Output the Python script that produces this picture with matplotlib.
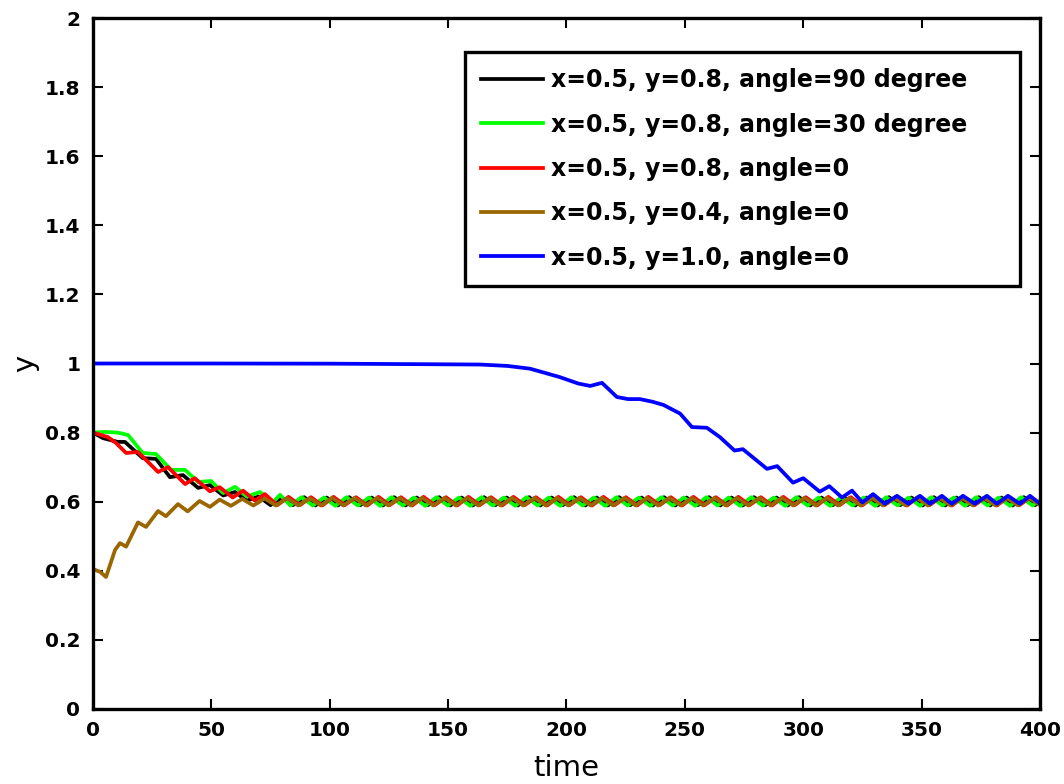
import numpy as np
import matplotlib
matplotlib.use("Agg")
import matplotlib.pyplot as plt

plt.rcParams['font.family'] = ['DejaVu Sans']

# ---- data ----
labels = ["x=0.5, y=0.8, angle=90 degree",
          "x=0.5, y=0.8, angle=30 degree",
          "x=0.5, y=0.8, angle=0",
          "x=0.5, y=0.4, angle=0",
          "x=0.5, y=1.0, angle=0"]
colors = ["black", "#00ff00", "red", "#996600", "blue"]

# early (transient) parts: time, y
black_t = [0, 4.2, 10.5, 13.5, 21, 26.6, 32.5, 38, 44.4, 49.4, 55, 60, 65, 70, 75]
black_y = [0.800, 0.784, 0.773, 0.773, 0.726, 0.724, 0.671, 0.677, 0.640, 0.648,
           0.618, 0.628, 0.603, 0.615, 0.590]

green_t = [0, 5, 10.5, 14.8, 21, 26.6, 33, 38.9, 44.4, 49.8, 55, 60, 65, 70.5,
           76, 79, 83.35]
green_y = [0.800, 0.802, 0.800, 0.793, 0.741, 0.738, 0.692, 0.692, 0.657, 0.660,
           0.625, 0.643, 0.615, 0.628, 0.598, 0.620, 0.589]

red_t = [0, 6.3, 9.7, 14, 19, 27.5, 31.7, 38.9, 43, 49.4, 53.5, 59, 63.4, 68.4,
         72.6, 77.85]
red_y = [0.800, 0.787, 0.770, 0.741, 0.744, 0.686, 0.700, 0.651, 0.668, 0.630,
         0.642, 0.612, 0.632, 0.603, 0.622, 0.590]

brown_t = [0, 3, 5.5, 9.3, 11.4, 14, 19, 22.4, 27.5, 30.8, 35.9, 40, 45, 49.4]
brown_y = [0.405, 0.397, 0.382, 0.460, 0.480, 0.470, 0.540, 0.527, 0.573, 0.558,
           0.593, 0.572, 0.602, 0.585]

# settled parts: peaks and troughs, read every half period
half_period = 4.75
black_tail_start = 79.7
black_tail = [0.612, 0.590, 0.613, 0.589, 0.612, 0.589, 0.613, 0.590, 0.612, 0.589,
              0.613, 0.589, 0.612, 0.590, 0.613, 0.589, 0.612, 0.589, 0.613, 0.590,
              0.612, 0.589, 0.613, 0.589, 0.612, 0.590, 0.613, 0.589, 0.612, 0.589,
              0.613, 0.590, 0.612, 0.589, 0.613, 0.589, 0.612, 0.590, 0.613, 0.589,
              0.612, 0.589, 0.613, 0.590, 0.612, 0.589, 0.613, 0.589, 0.612, 0.590,
              0.613, 0.589, 0.612, 0.589, 0.613, 0.590, 0.612, 0.589, 0.613, 0.589,
              0.612, 0.590, 0.613, 0.589, 0.612, 0.589, 0.613, 0.590, 0.612]
green_tail_start = 88.1
green_tail = [0.613, 0.589, 0.612, 0.588, 0.613, 0.589, 0.612, 0.588, 0.613, 0.589,
              0.612, 0.588, 0.613, 0.589, 0.612, 0.588, 0.613, 0.589, 0.612, 0.588,
              0.613, 0.589, 0.612, 0.588, 0.613, 0.589, 0.612, 0.588, 0.613, 0.589,
              0.612, 0.588, 0.613, 0.589, 0.612, 0.588, 0.613, 0.589, 0.612, 0.588,
              0.613, 0.589, 0.612, 0.588, 0.613, 0.589, 0.612, 0.588, 0.613, 0.589,
              0.612, 0.588, 0.613, 0.589, 0.612, 0.588, 0.613, 0.589, 0.612, 0.588,
              0.613, 0.589, 0.612, 0.588, 0.613, 0.589, 0.612]
red_tail_start = 82.6
red_tail = [0.614, 0.590, 0.613, 0.589, 0.614, 0.590, 0.613, 0.589, 0.614, 0.590,
            0.613, 0.589, 0.614, 0.590, 0.613, 0.589, 0.614, 0.590, 0.613, 0.589,
            0.614, 0.590, 0.613, 0.589, 0.614, 0.590, 0.613, 0.589, 0.614, 0.590,
            0.613, 0.589, 0.614, 0.590, 0.613, 0.589, 0.614, 0.590, 0.613, 0.589,
            0.614, 0.590, 0.613, 0.589, 0.614, 0.590, 0.613, 0.589, 0.614, 0.590,
            0.613, 0.589, 0.614, 0.590, 0.613, 0.589, 0.614, 0.590, 0.613, 0.589,
            0.614, 0.590, 0.613, 0.589, 0.614, 0.590, 0.613, 0.589]
brown_tail_start = 53.5
brown_tail = [0.606, 0.588, 0.608, 0.589, 0.609, 0.589, 0.610, 0.589, 0.610, 0.589,
              0.611, 0.589, 0.611, 0.589, 0.611, 0.589, 0.611, 0.589, 0.611, 0.589,
              0.611, 0.589, 0.611, 0.589, 0.611, 0.589, 0.611, 0.589, 0.611, 0.589,
              0.611, 0.589, 0.611, 0.589, 0.611, 0.589, 0.611, 0.589, 0.611, 0.589,
              0.611, 0.589, 0.611, 0.589, 0.611, 0.589, 0.611, 0.589, 0.611, 0.589,
              0.611, 0.589, 0.611, 0.589, 0.611, 0.589, 0.611, 0.589, 0.611, 0.589,
              0.611, 0.589, 0.611, 0.589, 0.611, 0.589, 0.611, 0.589, 0.611, 0.589,
              0.611, 0.589, 0.611, 0.589]

blue_t = [0, 50, 100, 140, 163.5, 175, 184.6, 197, 205, 210, 215, 221.3, 226, 231,
          236.5, 241, 248, 253, 259.3, 264.8, 271, 274.5, 284.7, 289, 295.7, 300,
          307, 311, 316.4, 320.6, 325, 329.5, 334.5, 339.6, 344.5, 349.3, 353.6,
          358.6, 362.8, 367.5, 372.5, 377.6, 381.8, 386.5, 391.5, 395.8, 400]
blue_y = [1.000, 1.000, 0.9995, 0.998, 0.997, 0.993, 0.985, 0.961, 0.942, 0.935,
          0.944, 0.903, 0.897, 0.897, 0.889, 0.880, 0.855, 0.816, 0.814, 0.787,
          0.748, 0.752, 0.695, 0.703, 0.655, 0.668, 0.629, 0.645, 0.612, 0.632,
          0.598, 0.622, 0.594, 0.617, 0.594, 0.617, 0.594, 0.617, 0.594, 0.617,
          0.594, 0.617, 0.594, 0.617, 0.594, 0.617, 0.594]


def join(t, y, start, tail):
    tt = start + half_period * np.arange(len(tail))
    return np.concatenate([t, tt]), np.concatenate([y, tail])


series = [join(black_t, black_y, black_tail_start, black_tail),
          join(green_t, green_y, green_tail_start, green_tail),
          join(red_t, red_y, red_tail_start, red_tail),
          join(brown_t, brown_y, brown_tail_start, brown_tail),
          (np.array(blue_t), np.array(blue_y))]

fig = plt.figure(figsize=(10.64, 7.84), dpi=100)
ax = fig.add_axes([0.0874, 0.0957, 0.8900, 0.8813])

for (t, y), c, lab in zip(series, colors, labels):
    ax.plot(t, y, color=c, lw=2.7, label=lab, solid_joinstyle='round')

ax.set_xlim(0, 400)
ax.set_ylim(0, 2)
ax.set_xticks(np.arange(0, 401, 50))
ax.set_yticks(np.arange(0, 2.01, 0.2))
ax.set_yticklabels(["0", "0.2", "0.4", "0.6", "0.8", "1", "1.2", "1.4", "1.6", "1.8", "2"])
ax.tick_params(direction='in', length=7, width=1.5, top=True, right=True,
               labelsize=14.5, pad=9)
for lab in ax.get_xticklabels() + ax.get_yticklabels():
    lab.set_fontweight('bold')
for s in ax.spines.values():
    s.set_linewidth(2.4)

ax.set_xlabel("time", fontsize=21, labelpad=10)
ax.set_ylabel("y", fontsize=21, labelpad=4)

# legend box stretched to the width seen in the picture
leg = ax.legend(loc='upper left', bbox_to_anchor=(0.3928, 0.618, 0.5862, 0.333),
                mode='expand', borderaxespad=0,
                prop={'weight': 'bold', 'size': 17}, fancybox=False, framealpha=1,
                handlelength=2.6, handletextpad=0.35, labelspacing=0.86,
                borderpad=0.7)
leg.get_frame().set_edgecolor('black')
leg.get_frame().set_linewidth(2.4)

fig.savefig("out.png", dpi=100)
